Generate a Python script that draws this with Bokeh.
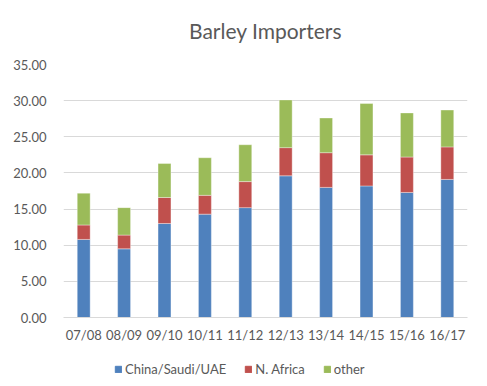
from bokeh.plotting import figure
from bokeh.layouts import column
from bokeh.models import ColumnDataSource, NumeralTickFormatter, FixedTicker, Legend, Title
from bokeh.embed import file_html
from bokeh.resources import INLINE

seasons = ["07/08", "08/09", "09/10", "10/11", "11/12", "12/13", "13/14", "14/15", "15/16", "16/17"]
china_saudi_uae = [10.8, 9.5, 13.0, 14.3, 15.2, 19.6, 18.0, 18.2, 17.3, 19.1]
n_africa = [2.0, 1.9, 3.6, 2.6, 3.6, 3.9, 4.8, 4.3, 4.9, 4.5]
other = [4.4, 3.8, 4.7, 5.2, 5.1, 6.6, 4.8, 7.1, 6.1, 5.1]
y_ticks = [0, 5, 10, 15, 20, 25, 30, 35]
series_names = ["China/Saudi/UAE", "N. Africa", "other"]
colors = ["#4F81BD", "#C0504D", "#9BBB59"]

FONT = "Lato"
GREY = "#595959"

source = ColumnDataSource(dict(season=seasons, china=china_saudi_uae,
                               nafrica=n_africa, other=other))

p = figure(x_range=seasons, y_range=(0, 35),
           frame_width=404, frame_height=253,
           output_backend="svg", toolbar_location=None,
           min_border_left=63, min_border_right=20,
           min_border_top=64, min_border_bottom=35)

p.vbar_stack(["china", "nafrica", "other"], x="season", width=0.32,
             source=source, color=colors,
             line_color="white", line_width=0.6, line_alpha=0.6)

# spacer title (closest to frame) then the real title above it
p.add_layout(Title(text=" ", text_font_size="18px", standoff=0), "above")
p.add_layout(Title(text="Barley Importers", align="center", text_font=FONT,
                   text_font_size="21px", text_font_style="normal",
                   text_color=GREY, standoff=0), "above")

p.yaxis.ticker = FixedTicker(ticks=y_ticks)
p.yaxis.formatter = NumeralTickFormatter(format="0.00")
for ax in (p.xaxis, p.yaxis):
    ax.major_label_text_font = FONT
    ax.major_label_text_font_size = "13px"
    ax.major_label_text_color = GREY
    ax.major_tick_line_color = None
    ax.minor_tick_line_color = None
p.yaxis.axis_line_color = None
p.xaxis.axis_line_color = "#d9d9d9"
p.xaxis.major_label_standoff = 3
p.yaxis.major_label_standoff = 11

p.xgrid.grid_line_color = None
p.ygrid.grid_line_color = "#d9d9d9"
p.ygrid.grid_line_width = 1
p.outline_line_color = None
p.x_range.range_padding = 0.0

# legend strip below the chart (swatch glyphs sit outside the visible range)
lg = figure(width=487, height=34, output_backend="svg", toolbar_location=None,
            x_range=(0, 1), y_range=(0, 1),
            x_axis_location=None, y_axis_location=None,
            min_border_left=0, min_border_right=0, min_border_top=0, min_border_bottom=0)
lg.grid.visible = False
lg.outline_line_color = None
items = []
for name, c in zip(series_names, colors):
    r = lg.vbar(x=[-5], top=[-5], bottom=[-6], width=0.5, color=c)
    items.append((name, [r]))
legend = Legend(items=items, orientation="horizontal", location=(51, 9),
                label_text_font=FONT, label_text_font_size="13px",
                label_text_color=GREY, glyph_width=8, glyph_height=8,
                spacing=18, label_standoff=3, border_line_color=None,
                background_fill_alpha=0, padding=0, margin=0)
lg.add_layout(legend, "center")

layout = column(p, lg, spacing=0)
open("out.html", "w").write(file_html(layout, INLINE))
